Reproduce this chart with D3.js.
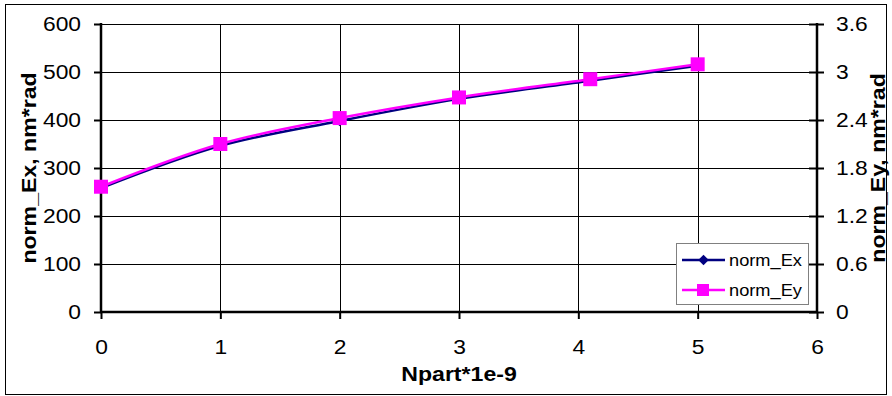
<!DOCTYPE html>
<html><head><meta charset="utf-8">
<script src="https://cdn.jsdelivr.net/npm/d3@7"></script>
<style>body{margin:0;background:#fff}svg{display:block;font-family:"Liberation Sans",Arial,sans-serif}</style>
</head><body><svg id="c" width="892" height="396"></svg>
<script>
const xValues = [0, 1, 2, 3, 4.1, 5];
const normEx = [258, 346, 398, 444, 482, 513];
const normEyLeftUnits = [261, 350, 404, 447, 485, 516];
const normEy = normEyLeftUnits.map(v => +(v * 3.6 / 600).toFixed(3));
const xTicks = [0, 1, 2, 3, 4, 5, 6];
const yLeftTicks = [0, 100, 200, 300, 400, 500, 600];
const yRightTicks = [0, 0.6, 1.2, 1.8, 2.4, 3, 3.6];
const seriesNames = ["norm_Ex", "norm_Ey"];

const svg = d3.select("#c");
const L = 101, R = 817, T = 24, B = 312;
const x = d3.scaleLinear().domain([0, 6]).range([L, R]);
const yL = d3.scaleLinear().domain([0, 600]).range([B, T]);
const yR = d3.scaleLinear().domain([0, 3.6]).range([B, T]);
const SX = 1.17;

svg.append("rect").attr("x", 5.5).attr("y", 4.5).attr("width", 881).attr("height", 390)
  .attr("fill", "#fff").attr("stroke", "#000").attr("stroke-width", 1);

// grid
const g = svg.append("g");
g.selectAll(".hg").data(yLeftTicks.slice(1)).join("line")
  .attr("x1", L).attr("x2", R).attr("y1", d => Math.round(yL(d)) + 0.5).attr("y2", d => Math.round(yL(d)) + 0.5)
  .attr("stroke", "#000").attr("stroke-width", 1);
g.selectAll(".vg").data(xTicks.slice(1, -1)).join("line")
  .attr("y1", T).attr("y2", B).attr("x1", d => Math.round(x(d)) + 0.5).attr("x2", d => Math.round(x(d)) + 0.5)
  .attr("stroke", "#000").attr("stroke-width", 1);

// axes
const fs = 19.5;
const axL = svg.append("g").attr("transform", `translate(${L},0)`)
  .call(d3.axisLeft(yL).tickValues(yLeftTicks).tickSize(7).tickPadding(13).tickFormat(d3.format("d")));
const axB = svg.append("g").attr("transform", `translate(0,${B})`)
  .call(d3.axisBottom(x).tickValues(xTicks).tickSize(7).tickPadding(21).tickFormat(d3.format("d")));
const axR = svg.append("g").attr("transform", `translate(${R},0)`)
  .call(d3.axisRight(yR).tickValues(yRightTicks).tickSize(7).tickPadding(12).tickFormat(d => d3.format("")(+d.toFixed(1))));
[axL, axB, axR].forEach(a => {
  a.select(".domain").remove();
  a.selectAll("text").attr("font-size", fs).attr("fill", "#000").attr("font-family", "Liberation Sans, Arial, sans-serif")
    .each(function() {
      const t = d3.select(this);
      const xx = +(t.attr("x") || 0);
      t.attr("x", xx / SX).attr("transform", `scale(${SX},1)`);
    });
  a.selectAll(".tick line").attr("stroke", "#000").attr("stroke-width", 2);
});
axR.selectAll(".tick line").attr("x1", -8).attr("x2", 7);
svg.append("line").attr("x1", L).attr("x2", L).attr("y1", T - 1).attr("y2", B + 1).attr("stroke", "#000").attr("stroke-width", 2.5);
svg.append("line").attr("x1", R).attr("x2", R).attr("y1", T - 1).attr("y2", B + 1).attr("stroke", "#000").attr("stroke-width", 2.5);
svg.append("line").attr("x1", L - 1).attr("x2", R + 1).attr("y1", B).attr("y2", B).attr("stroke", "#000").attr("stroke-width", 2.5);

// titles
const TS = 1.1;
svg.append("text").attr("transform", `translate(${(L + R) / 2},381) scale(${TS},1)`).attr("text-anchor", "middle")
  .attr("font-size", 21).attr("font-weight", "bold").text("Npart*1e-9");
svg.append("text").attr("transform", `translate(36,${(T + B) / 2}) rotate(-90) scale(${TS},1)`).attr("text-anchor", "middle")
  .attr("font-size", 21).attr("font-weight", "bold").text("norm_Ex, nm*rad");
svg.append("text").attr("transform", `translate(885,${(T + B) / 2}) rotate(-90) scale(${TS},1)`).attr("text-anchor", "middle")
  .attr("font-size", 21).attr("font-weight", "bold").text("norm_Ey, nm*rad");

// lines
const line = d3.line().curve(d3.curveCatmullRom.alpha(0.5));
const exPts = xValues.map((v, i) => [x(v), yL(normEx[i])]);
const eyPts = xValues.map((v, i) => [x(v), yR(normEy[i])]);
svg.append("path").attr("d", line(exPts)).attr("fill", "none").attr("stroke", "#000080").attr("stroke-width", 2.5);
svg.selectAll(".dm").data(exPts).join("path")
  .attr("transform", d => `translate(${d[0]},${d[1]})`)
  .attr("d", d3.symbol(d3.symbolDiamond2, 70)).attr("fill", "#000080");
svg.append("path").attr("d", line(eyPts)).attr("fill", "none").attr("stroke", "#FF00FF").attr("stroke-width", 2.5);
svg.selectAll(".sq").data(eyPts).join("rect")
  .attr("x", d => d[0] - 7).attr("y", d => d[1] - 7).attr("width", 14).attr("height", 14).attr("fill", "#FF00FF");

// legend
const lg = svg.append("g");
lg.append("rect").attr("x", 676.5).attr("y", 243.5).attr("width", 132).attr("height", 61)
  .attr("fill", "#fff").attr("stroke", "#808080").attr("stroke-width", 1);
const ly = [260, 290];
lg.selectAll(".ll").data(seriesNames).join("line")
  .attr("x1", 682).attr("x2", 725).attr("y1", (d, i) => ly[i]).attr("y2", (d, i) => ly[i])
  .attr("stroke", (d, i) => i ? "#FF00FF" : "#000080").attr("stroke-width", 2.5);
lg.append("path").attr("transform", `translate(703.5,${ly[0]})`).attr("d", d3.symbol(d3.symbolDiamond2, 70)).attr("fill", "#000080");
lg.append("rect").attr("x", 697).attr("y", ly[1] - 6).attr("width", 12).attr("height", 12).attr("fill", "#FF00FF");
lg.selectAll(".lt").data(seriesNames).join("text")
  .attr("transform", (d, i) => `translate(729,${ly[i] + 6}) scale(1.14,1)`).attr("font-size", 16).text(d => d);
</script></body></html>
